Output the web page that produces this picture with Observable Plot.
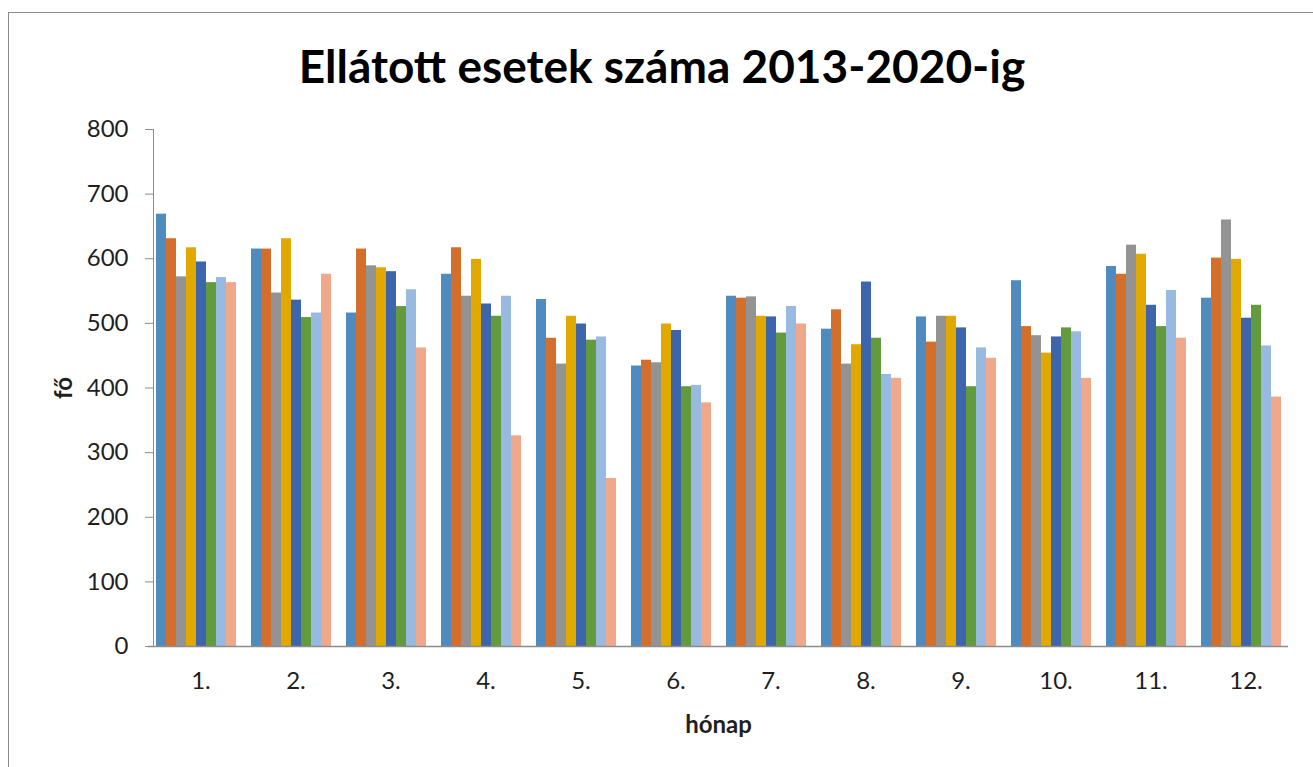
<!DOCTYPE html>
<html><head><meta charset="utf-8">
<script src="https://cdn.jsdelivr.net/npm/d3@7"></script>
<script src="https://cdn.jsdelivr.net/npm/@observablehq/plot@0.6"></script>
<style>
html,body{margin:0;padding:0;background:#fff;overflow:hidden;}
#wrap{position:relative;width:1313px;height:767px;overflow:hidden;font-family:Lato,sans-serif;}
#border{position:absolute;left:8px;top:12px;width:1400px;height:900px;border:1px solid #8a8a8a;box-sizing:border-box;pointer-events:none;}
#title{height:100px;box-sizing:border-box;padding-top:38px;padding-left:11px;text-align:center;font-size:46px;font-weight:bold;color:#000;line-height:normal;white-space:nowrap;}
#chart svg{display:block;}
#chart svg text{fill:#1f1f1f;}
#chart [aria-label="y-axis label"] text,#chart [aria-label="fx-axis label"] text{font-weight:bold;}
</style></head>
<body><div id="wrap"><div id="border"></div><div id="title">Ellátott esetek száma 2013-2020-ig</div><div id="chart"></div></div>
<script>
const months = ["1.","2.","3.","4.","5.","6.","7.","8.","9.","10.","11.","12."];
const years = ["2013","2014","2015","2016","2017","2018","2019","2020"];
const colors = ["#4F8BBF","#D46F2B","#939393","#E1A900","#3D65AB","#629A3E","#98B9E0","#F0A88A"];
const yTicks = [0, 100, 200, 300, 400, 500, 600, 700, 800];
const v2013 = [669, 615, 516, 576, 537, 434, 542, 491, 510, 566, 588, 539];
const v2014 = [631, 615, 615, 617, 477, 443, 539, 521, 471, 495, 576, 601];
const v2015 = [572, 547, 589, 542, 437, 439, 541, 437, 511, 481, 621, 660];
const v2016 = [617, 631, 586, 599, 511, 499, 511, 467, 511, 454, 607, 599];
const v2017 = [595, 536, 580, 530, 499, 489, 510, 564, 493, 479, 528, 508];
const v2018 = [563, 509, 526, 511, 474, 402, 485, 477, 402, 493, 495, 528];
const v2019 = [571, 516, 552, 542, 479, 404, 526, 421, 462, 487, 551, 465];
const v2020 = [563, 576, 462, 326, 260, 377, 499, 415, 446, 415, 477, 386];
const series = [v2013, v2014, v2015, v2016, v2017, v2018, v2019, v2020];

const table = years.flatMap((yr, i) => months.map((m, j) => ({month: m, year: yr, value: series[i][j]})));

const chart = Plot.plot({
  width: 1313, height: 667,
  marginLeft: 153, marginRight: 19, marginTop: 29, marginBottom: 121,
  style: {fontFamily: "Lato, sans-serif", fontSize: "24px", color: "#8c8c8c", background: "transparent", overflow: "visible"},
  fx: {domain: months, paddingInner: 0.1025, paddingOuter: 0.054, align: 0},
  x: {domain: years, axis: null, padding: 0},
  y: {domain: [0, 800], ticks: yTicks, label: "fő", labelArrow: "none", labelAnchor: "center", labelOffset: 99, tickSize: 8, tickPadding: 17, line: true},
  color: {domain: years, range: colors},
  marks: [
    Plot.barY(table, {fx: "month", x: "year", y: "value", fill: "year"}),
    Plot.ruleY([0], {stroke: "#8c8c8c", strokeWidth: 1.5, insetLeft: -5, insetRight: -5}),
    Plot.axisFx({anchor: "bottom", tickSize: 0, tickPadding: 25, dx: 5, label: "hónap", labelAnchor: "center", labelOffset: 86})
  ]
});
document.getElementById("chart").appendChild(chart);
</script>
</body></html>
